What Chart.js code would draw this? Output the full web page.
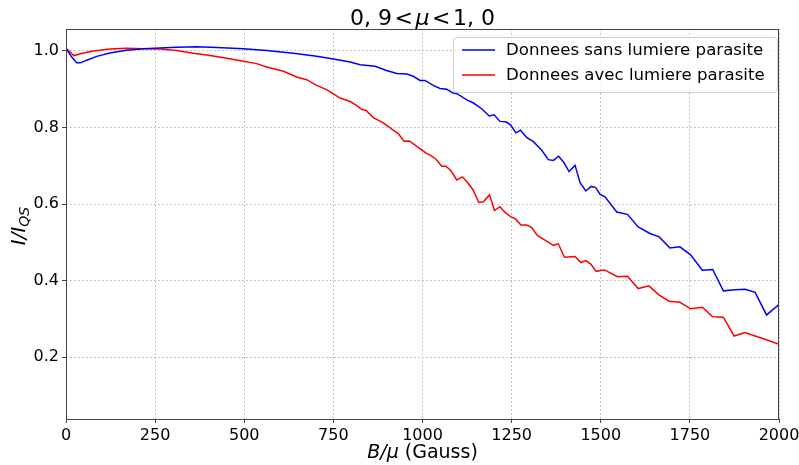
<!DOCTYPE html>
<html>
<head>
<meta charset="utf-8">
<script src="https://cdn.jsdelivr.net/npm/chart.js@4.4.0/dist/chart.umd.min.js"></script>
<style>
  html, body { margin: 0; padding: 0; background: #fff; }
  canvas { display: block; }
</style>
</head>
<body>
<canvas id="chart" width="799" height="465"></canvas>
<script>
// tick positions
const xTicks = [0, 250, 500, 750, 1000, 1250, 1500, 1750, 2000];
const yTicks = [0.2, 0.4, 0.6, 0.8, 1.0];

const seriesLabels = ['Donnees sans lumiere parasite', 'Donnees avec lumiere parasite'];

// Donnees sans lumiere parasite (B/mu, I/I_QS)
const sansB = [0, 16, 30, 41, 58, 86, 123, 170, 217, 264, 310, 367, 423, 497, 563, 610, 638, 703, 750, 797,
  825, 867, 899, 928, 956, 974, 993, 1007, 1030, 1049, 1068, 1086, 1098, 1124, 1143, 1166, 1187, 1201, 1217, 1234,
  1247, 1262, 1275, 1292, 1311, 1334, 1353, 1367, 1382, 1397, 1411, 1428, 1442, 1458, 1473, 1486, 1498, 1512, 1545, 1575,
  1605, 1638, 1664, 1694, 1722, 1752, 1785, 1814, 1844, 1877, 1905, 1933, 1965, 2000];
const sansI = [1.007, 0.984, 0.969, 0.969, 0.976, 0.986, 0.995, 1.002, 1.006, 1.008, 1.010, 1.011, 1.009, 1.006, 1.001, 0.997, 0.994, 0.986, 0.979, 0.971,
  0.964, 0.960, 0.949, 0.941, 0.940, 0.934, 0.923, 0.923, 0.910, 0.902, 0.900, 0.890, 0.888, 0.872, 0.864, 0.849, 0.830, 0.833, 0.816, 0.815,
  0.807, 0.786, 0.793, 0.774, 0.763, 0.741, 0.716, 0.714, 0.725, 0.708, 0.685, 0.701, 0.656, 0.634, 0.646, 0.643, 0.625, 0.619, 0.579, 0.573,
  0.540, 0.523, 0.514, 0.485, 0.488, 0.467, 0.427, 0.429, 0.373, 0.376, 0.377, 0.369, 0.310, 0.337];

// Donnees avec lumiere parasite
const avecB = [0, 22, 49, 77, 123, 170, 217, 264, 310, 357, 404, 451, 497, 535, 563, 610, 647, 675, 703, 731,
  750, 769, 797, 815, 830, 841, 862, 890, 918, 932, 948, 963, 993, 1010, 1023, 1038, 1054, 1066, 1080, 1096,
  1112, 1126, 1141, 1158, 1171, 1188, 1202, 1217, 1234, 1247, 1261, 1276, 1292, 1306, 1322, 1348, 1367, 1381, 1398, 1428,
  1444, 1458, 1472, 1487, 1503, 1512, 1547, 1575, 1605, 1635, 1664, 1692, 1722, 1752, 1785, 1814, 1844, 1874, 1905, 1933,
  1965, 2000];
const avecI = [1.007, 0.988, 0.995, 1.000, 1.005, 1.007, 1.006, 1.005, 1.001, 0.994, 0.988, 0.981, 0.973, 0.967, 0.958, 0.947, 0.932, 0.925, 0.910, 0.899,
  0.888, 0.877, 0.868, 0.858, 0.847, 0.845, 0.826, 0.812, 0.793, 0.784, 0.764, 0.765, 0.745, 0.733, 0.727, 0.717, 0.699, 0.699, 0.687, 0.663,
  0.671, 0.657, 0.638, 0.604, 0.606, 0.624, 0.583, 0.593, 0.576, 0.567, 0.561, 0.545, 0.545, 0.539, 0.518, 0.503, 0.492, 0.496, 0.461, 0.463,
  0.447, 0.452, 0.443, 0.424, 0.427, 0.427, 0.410, 0.411, 0.379, 0.386, 0.362, 0.346, 0.343, 0.326, 0.330, 0.305, 0.304, 0.255, 0.264, 0.255,
  0.245, 0.233];

const FONT = "'DejaVu Sans', sans-serif";

function toPoints(xs, ys) {
  return xs.map((x, i) => ({ x: x, y: ys[i] }));
}

// draw a row of text pieces with different fonts, centred on x
function drawRuns(ctx, runs, x, y) {
  let total = 0;
  runs.forEach(r => { ctx.font = r.font; total += ctx.measureText(r.text).width + (r.gap || 0); });
  let cx = x - total / 2;
  runs.forEach(r => {
    ctx.font = r.font;
    ctx.fillText(r.text, cx, y + (r.dy || 0));
    cx += ctx.measureText(r.text).width + (r.gap || 0);
  });
}

const decorPlugin = {
  id: 'decor',
  afterDraw(chart) {
    const ctx = chart.ctx;
    const a = chart.chartArea;
    ctx.save();

    // frame all around
    ctx.strokeStyle = '#444';
    ctx.lineWidth = 1;
    ctx.strokeRect(Math.round(a.left) + 0.5, Math.round(a.top) + 0.5,
      Math.round(a.right - a.left) - 1, Math.round(a.bottom - a.top));

    ctx.fillStyle = '#000';
    ctx.textBaseline = 'alphabetic';
    ctx.textAlign = 'left';

    // title
    const tf = '22px ' + FONT;
    drawRuns(ctx, [
      { text: '0, 9', font: tf, gap: 2.5 },
      { text: '<', font: tf, gap: 2.5 },
      { text: 'μ', font: 'italic 22px ' + FONT, gap: 2.5 },
      { text: '<', font: tf, gap: 2.5 },
      { text: '1, 0', font: tf }
    ], (a.left + a.right) / 2, 25);

    // x label
    drawRuns(ctx, [
      { text: 'B/μ', font: 'italic 19px ' + FONT },
      { text: ' (Gauss)', font: '19px ' + FONT }
    ], (a.left + a.right) / 2, 458);

    // y label
    ctx.save();
    ctx.translate(25, 226);
    ctx.rotate(-Math.PI / 2);
    drawRuns(ctx, [
      { text: 'I/I', font: 'italic 20px ' + FONT },
      { text: 'QS', font: 'italic 14px ' + FONT, dy: 4 }
    ], 0, 0);
    ctx.restore();

    // legend
    const lx = 453, ly = 37, lw = 324, lh = 55;
    ctx.beginPath();
    ctx.roundRect(lx + 0.5, ly + 0.5, lw, lh, 3);
    ctx.fillStyle = 'rgba(255,255,255,0.8)';
    ctx.fill();
    ctx.strokeStyle = '#d0d0d0';
    ctx.stroke();
    chart.data.datasets.forEach((ds, i) => {
      const yy = ly + 13 + i * 25;
      ctx.strokeStyle = ds.borderColor;
      ctx.lineWidth = 1.5;
      ctx.beginPath();
      ctx.moveTo(462, yy);
      ctx.lineTo(495, yy);
      ctx.stroke();
      ctx.fillStyle = '#000';
      ctx.font = '16.6px ' + FONT;
      ctx.textBaseline = 'middle';
      ctx.fillText(ds.label, 506, yy + 1);
    });

    ctx.restore();
  }
};

const ctx = document.getElementById('chart').getContext('2d');
const chart = new Chart(ctx, {
  type: 'line',
  data: {
    datasets: [{
      label: seriesLabels[0],
      data: toPoints(sansB, sansI),
      borderColor: '#0000ff',
      borderWidth: 1.5,
      pointRadius: 0,
      fill: false,
      tension: 0
    }, {
      label: seriesLabels[1],
      data: toPoints(avecB, avecI),
      borderColor: '#ff0000',
      borderWidth: 1.5,
      pointRadius: 0,
      fill: false,
      tension: 0
    }]
  },
  options: {
    responsive: false,
    animation: false,
    layout: { padding: { top: 29, right: 20, left: 0, bottom: 0 } },
    plugins: {
      legend: { display: false },
      title: { display: false },
      tooltip: { enabled: false }
    },
    scales: {
      x: {
        type: 'linear',
        min: 0,
        max: 2000,
        afterBuildTicks: scale => { scale.ticks = xTicks.map(v => ({ value: v })); },
        afterFit: scale => {
          scale.height = 46;
          scale.paddingLeft = 0;
          scale.paddingRight = 0;
        },
        grid: {
          color: '#b0b0b0',
          lineWidth: 1,
          tickLength: 4,
          tickColor: '#444',
          tickBorderDash: []
        },
        border: { display: false, dash: [1.5, 2.5] },
        ticks: {
          color: '#000',
          font: { family: FONT, size: 16 },
          padding: 3,
          maxRotation: 0,
          callback: v => String(v)
        }
      },
      y: {
        type: 'linear',
        min: 0.038,
        max: 1.0575,
        afterBuildTicks: scale => { scale.ticks = yTicks.map(v => ({ value: v })); },
        afterFit: scale => {
          scale.width = 66;
          scale.paddingTop = 0;
          scale.paddingBottom = 0;
        },
        grid: {
          color: '#b0b0b0',
          lineWidth: 1,
          tickLength: 4,
          tickColor: '#444',
          tickBorderDash: []
        },
        border: { display: false, dash: [1.5, 2.5] },
        ticks: {
          color: '#000',
          font: { family: FONT, size: 16 },
          padding: 3,
          callback: v => v.toFixed(1)
        }
      }
    }
  },
  plugins: [decorPlugin]
});
</script>
</body>
</html>
